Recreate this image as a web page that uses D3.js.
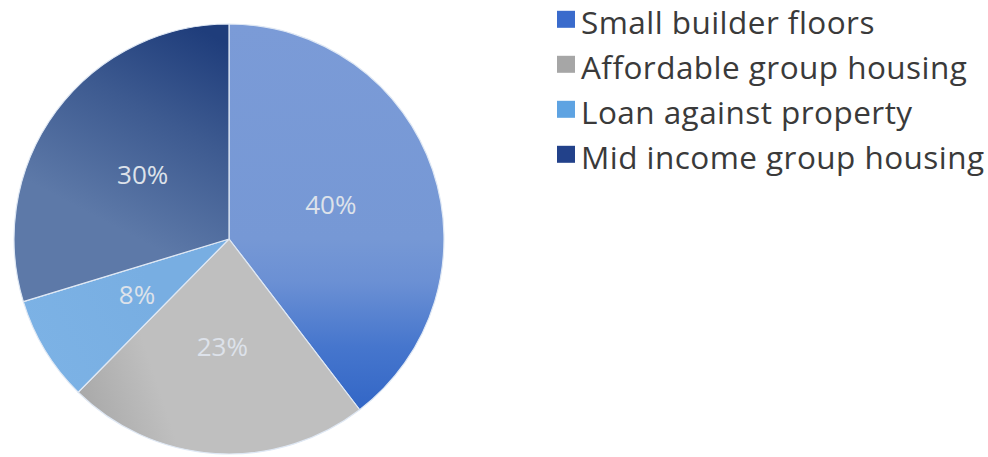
<!DOCTYPE html>
<html>
<head>
<meta charset="utf-8">
<script src="https://cdn.jsdelivr.net/npm/d3@7"></script>
<style>
  html, body { margin: 0; padding: 0; background: #ffffff; }
  svg { display: block; }
</style>
</head>
<body>
<svg id="chart" width="988" height="457"></svg>
<script>
// Loan book mix by segment
const categories = ["Small builder floors", "Affordable group housing", "Loan against property", "Mid income group housing"];
const shares = [40, 23, 8, 30];
const labels = ["40%", "23%", "8%", "30%"];
const legendColors = ["#3a6bcc", "#a6a6a6", "#5ea3e2", "#22418a"];

const W = 988, H = 457;
const cx = 229, cy = 239, R = 215;

const svg = d3.select("#chart");
const defs = svg.append("defs");

// Per-slice shading (coordinates in the pie's local space, centre at 0,0)
const gradients = [
  { id: "g0", x1: 0, y1: -R, x2: 0, y2: R,
    stops: [[0, "#7b9bd7"], [0.5, "#7698d5"], [0.6, "#6b90d4"], [0.75, "#4676cd"], [0.9, "#3266c6"], [1, "#2c60c2"]] },
  { id: "g1", x1: -160, y1: 180, x2: -70, y2: 150,
    stops: [[0, "#a4a4a4"], [1, "#bfbfbf"]] },
  { id: "g2", x1: -200, y1: 100, x2: -80, y2: 40,
    stops: [[0, "#7cb2e5"], [1, "#78aee2"]] },
  { id: "g3", x1: -10, y1: -200, x2: -110, y2: -10,
    stops: [[0, "#1f3d7b"], [0.45, "#3d5a90"], [1, "#5d79a8"]] }
];

gradients.forEach(g => {
  const lg = defs.append("linearGradient")
    .attr("id", g.id)
    .attr("gradientUnits", "userSpaceOnUse")
    .attr("x1", g.x1).attr("y1", g.y1)
    .attr("x2", g.x2).attr("y2", g.y2);
  g.stops.forEach(s => lg.append("stop").attr("offset", s[0]).attr("stop-color", s[1]));
});

const pie = d3.pie().value(d => d).sort(null);
const arc = d3.arc().innerRadius(0).outerRadius(R);
const arcs = pie(shares);

const gPie = svg.append("g").attr("transform", `translate(${cx},${cy})`);

gPie.selectAll("path.slice")
  .data(arcs)
  .join("path")
  .attr("class", "slice")
  .attr("d", arc)
  .attr("fill", (d, i) => `url(#${gradients[i].id})`)
  .attr("stroke", "#dfe8f4")
  .attr("stroke-width", 1.2)
  .attr("stroke-linejoin", "round");

gPie.selectAll("text.pct")
  .data(arcs)
  .join("text")
  .attr("class", "pct")
  .attr("transform", d => `translate(${arc.centroid(d)})`)
  .attr("text-anchor", "middle")
  .attr("dy", "0.36em")
  .attr("font-family", "'Open Sans', sans-serif")
  .attr("font-size", 26)
  .attr("font-weight", 500)
  .attr("fill", "#dde2ea")
  .text((d, i) => labels[i]);

// Legend
const legendX = 557, firstBaseline = 33.8, rowStep = 45;
const gLeg = svg.append("g");
const rows = gLeg.selectAll("g.row")
  .data(categories)
  .join("g")
  .attr("class", "row")
  .attr("transform", (d, i) => `translate(${legendX},${firstBaseline + i * rowStep})`);

rows.append("rect")
  .attr("x", 0).attr("y", -23)
  .attr("width", 18).attr("height", 17)
  .attr("fill", (d, i) => legendColors[i]);

rows.append("text")
  .attr("x", 24).attr("y", 0)
  .attr("font-family", "'Open Sans', sans-serif")
  .attr("font-size", 31.5)
  .attr("letter-spacing", 0.45)
  .attr("fill", "#3a3a3a")
  .text(d => d);
</script>
</body>
</html>
